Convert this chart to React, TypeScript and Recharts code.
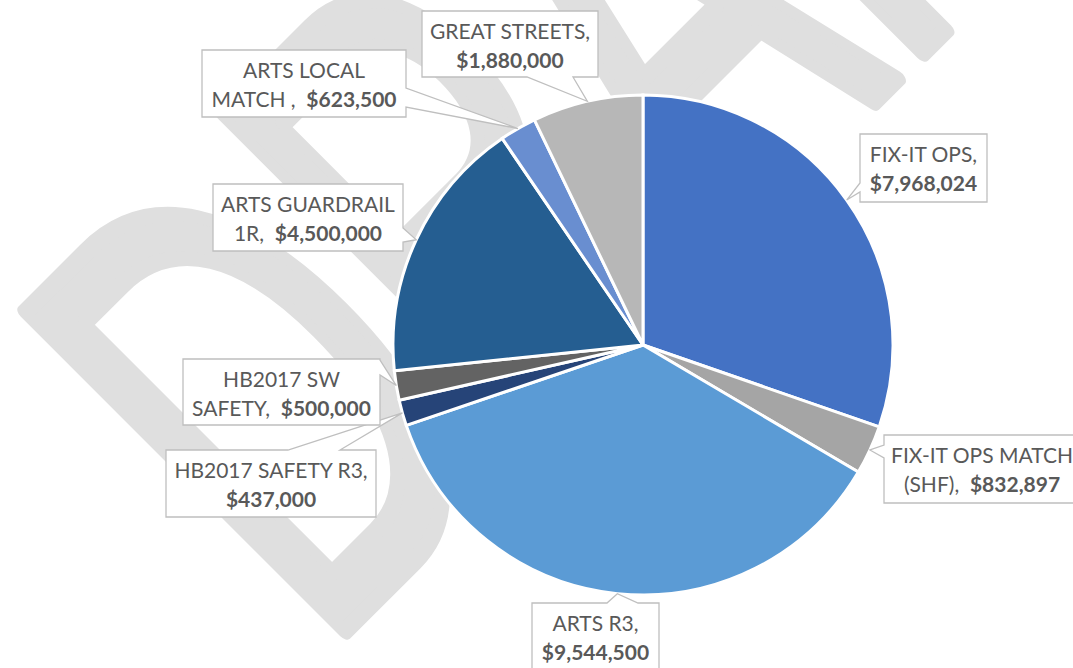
import { PieChart, Pie, Cell } from "recharts";

const categories = [
  "FIX-IT OPS",
  "FIX-IT OPS MATCH (SHF)",
  "ARTS R3",
  "HB2017 SAFETY R3",
  "HB2017 SW SAFETY",
  "ARTS GUARDRAIL 1R",
  "ARTS LOCAL MATCH ",
  "GREAT STREETS",
];
const amounts = [7968024, 832897, 9544500, 437000, 500000, 4500000, 623500, 1880000];
const colors = ["#4472C4", "#A5A5A5", "#5B9BD5", "#264478", "#636363", "#255E91", "#698ED0", "#B7B7B7"];

const data = categories.map((name, i) => ({ name, value: amounts[i] }));

// callout boxes were dragged by hand in the sheet, so they sit where they sit.
// side = edge the pointer leaves from, a/b = where along that edge, words = words on line 1
type Side = "left" | "right" | "top" | "bottom";
type Callout = { x: number; y: number; w: number; h: number; side: Side; a: number; b: number; words: number };
const callouts: Callout[] = [
  { x: 860, y: 134, w: 127, h: 68, side: "left", a: 183, b: 192, words: 2 },
  { x: 884, y: 435, w: 196, h: 68, side: "left", a: 445, b: 458, words: 3 },
  { x: 532, y: 603, w: 127, h: 68, side: "top", a: 607, b: 638, words: 2 },
  { x: 166, y: 450, w: 210, h: 67, side: "top", a: 288, b: 340, words: 3 },
  { x: 183, y: 359, w: 197, h: 66, side: "right", a: 360, b: 375, words: 2 },
  { x: 213, y: 184, w: 190, h: 67, side: "right", a: 228, b: 242, words: 2 },
  { x: 202, y: 50, w: 204, h: 67, side: "right", a: 88, b: 107, words: 2 },
  { x: 422, y: 11, w: 176, h: 66, side: "bottom", a: 527, b: 573, words: 2 },
];

const money = (v: number) => "$" + v.toLocaleString("en-US");

function calloutPath(c: Callout, ax: number, ay: number) {
  const { x, y, w, h, side, a, b } = c;
  const r = x + w;
  const btm = y + h;
  const p: string[] = [`M${x},${y}`];
  if (side === "top") p.push(`L${a},${y}`, `L${ax},${ay}`, `L${b},${y}`);
  p.push(`L${r},${y}`);
  if (side === "right") p.push(`L${r},${a}`, `L${ax},${ay}`, `L${r},${b}`);
  p.push(`L${r},${btm}`);
  if (side === "bottom") p.push(`L${b},${btm}`, `L${ax},${ay}`, `L${a},${btm}`);
  p.push(`L${x},${btm}`);
  if (side === "left") p.push(`L${x},${b}`, `L${ax},${ay}`, `L${x},${a}`);
  p.push("Z");
  return p.join(" ");
}

const renderCallout = (props: any) => {
  const { cx, cy, midAngle, outerRadius, index } = props;
  const c = callouts[index];
  const name = categories[index];
  const rad = (Math.PI / 180) * midAngle;
  const ax = cx + outerRadius * Math.cos(rad);
  const ay = cy - outerRadius * Math.sin(rad);

  const first = name.split(" ").slice(0, c.words).join(" ");
  const rest = name.slice(first.length).replace(/^ /, "");
  const line1 = rest ? first : first + ",";
  const line2 = rest ? rest + ",  " : "";
  const tx = c.x + c.w / 2;

  return (
    <g key={"callout-" + index}>
      <path d={calloutPath(c, ax, ay)} fill="#fff" stroke="#BFBFBF" strokeWidth={1.3} />
      <text x={tx} y={c.y + 28} textAnchor="middle" fill="#595959" fontSize={21} fontFamily="Lato" style={{ whiteSpace: "pre" }}>
        {line1}
      </text>
      <text x={tx} y={c.y + 57} textAnchor="middle" fill="#595959" fontSize={21} fontFamily="Lato" style={{ whiteSpace: "pre" }}>
        {line2}
        <tspan fontWeight="bold">{money(amounts[index])}</tspan>
      </text>
    </g>
  );
};

export default function App() {
  return (
    <div style={{ position: "absolute", left: 0, top: 0, width: 1073, height: 668, overflow: "hidden", background: "#fff" }}>
      {/* DRAFT watermark behind the chart */}
      <svg width={1073} height={668} style={{ position: "absolute", left: 0, top: 0 }}>
        <text
          transform="translate(343,633) rotate(-45) scale(0.59,1)"
          x={-52}
          fontFamily="Liberation Sans"
          fontSize={656}
          fill="#DFDFDF"
          stroke="#DFDFDF"
          strokeWidth={18}
          strokeLinejoin="round"
        >
          DRAFT
        </text>
      </svg>
      <PieChart
        width={1073}
        height={668}
        margin={{ top: 0, right: 0, bottom: 0, left: 0 }}
        style={{ position: "absolute", left: 0, top: 0 }}
      >
        <Pie
          data={data}
          dataKey="value"
          nameKey="name"
          cx={643}
          cy={345}
          outerRadius={250}
          startAngle={90}
          endAngle={-270}
          stroke="#fff"
          strokeWidth={3}
          labelLine={false}
          label={renderCallout}
          isAnimationActive={false}
        >
          {data.map((d, i) => (
            <Cell key={d.name} fill={colors[i]} />
          ))}
        </Pie>
      </PieChart>
    </div>
  );
}
